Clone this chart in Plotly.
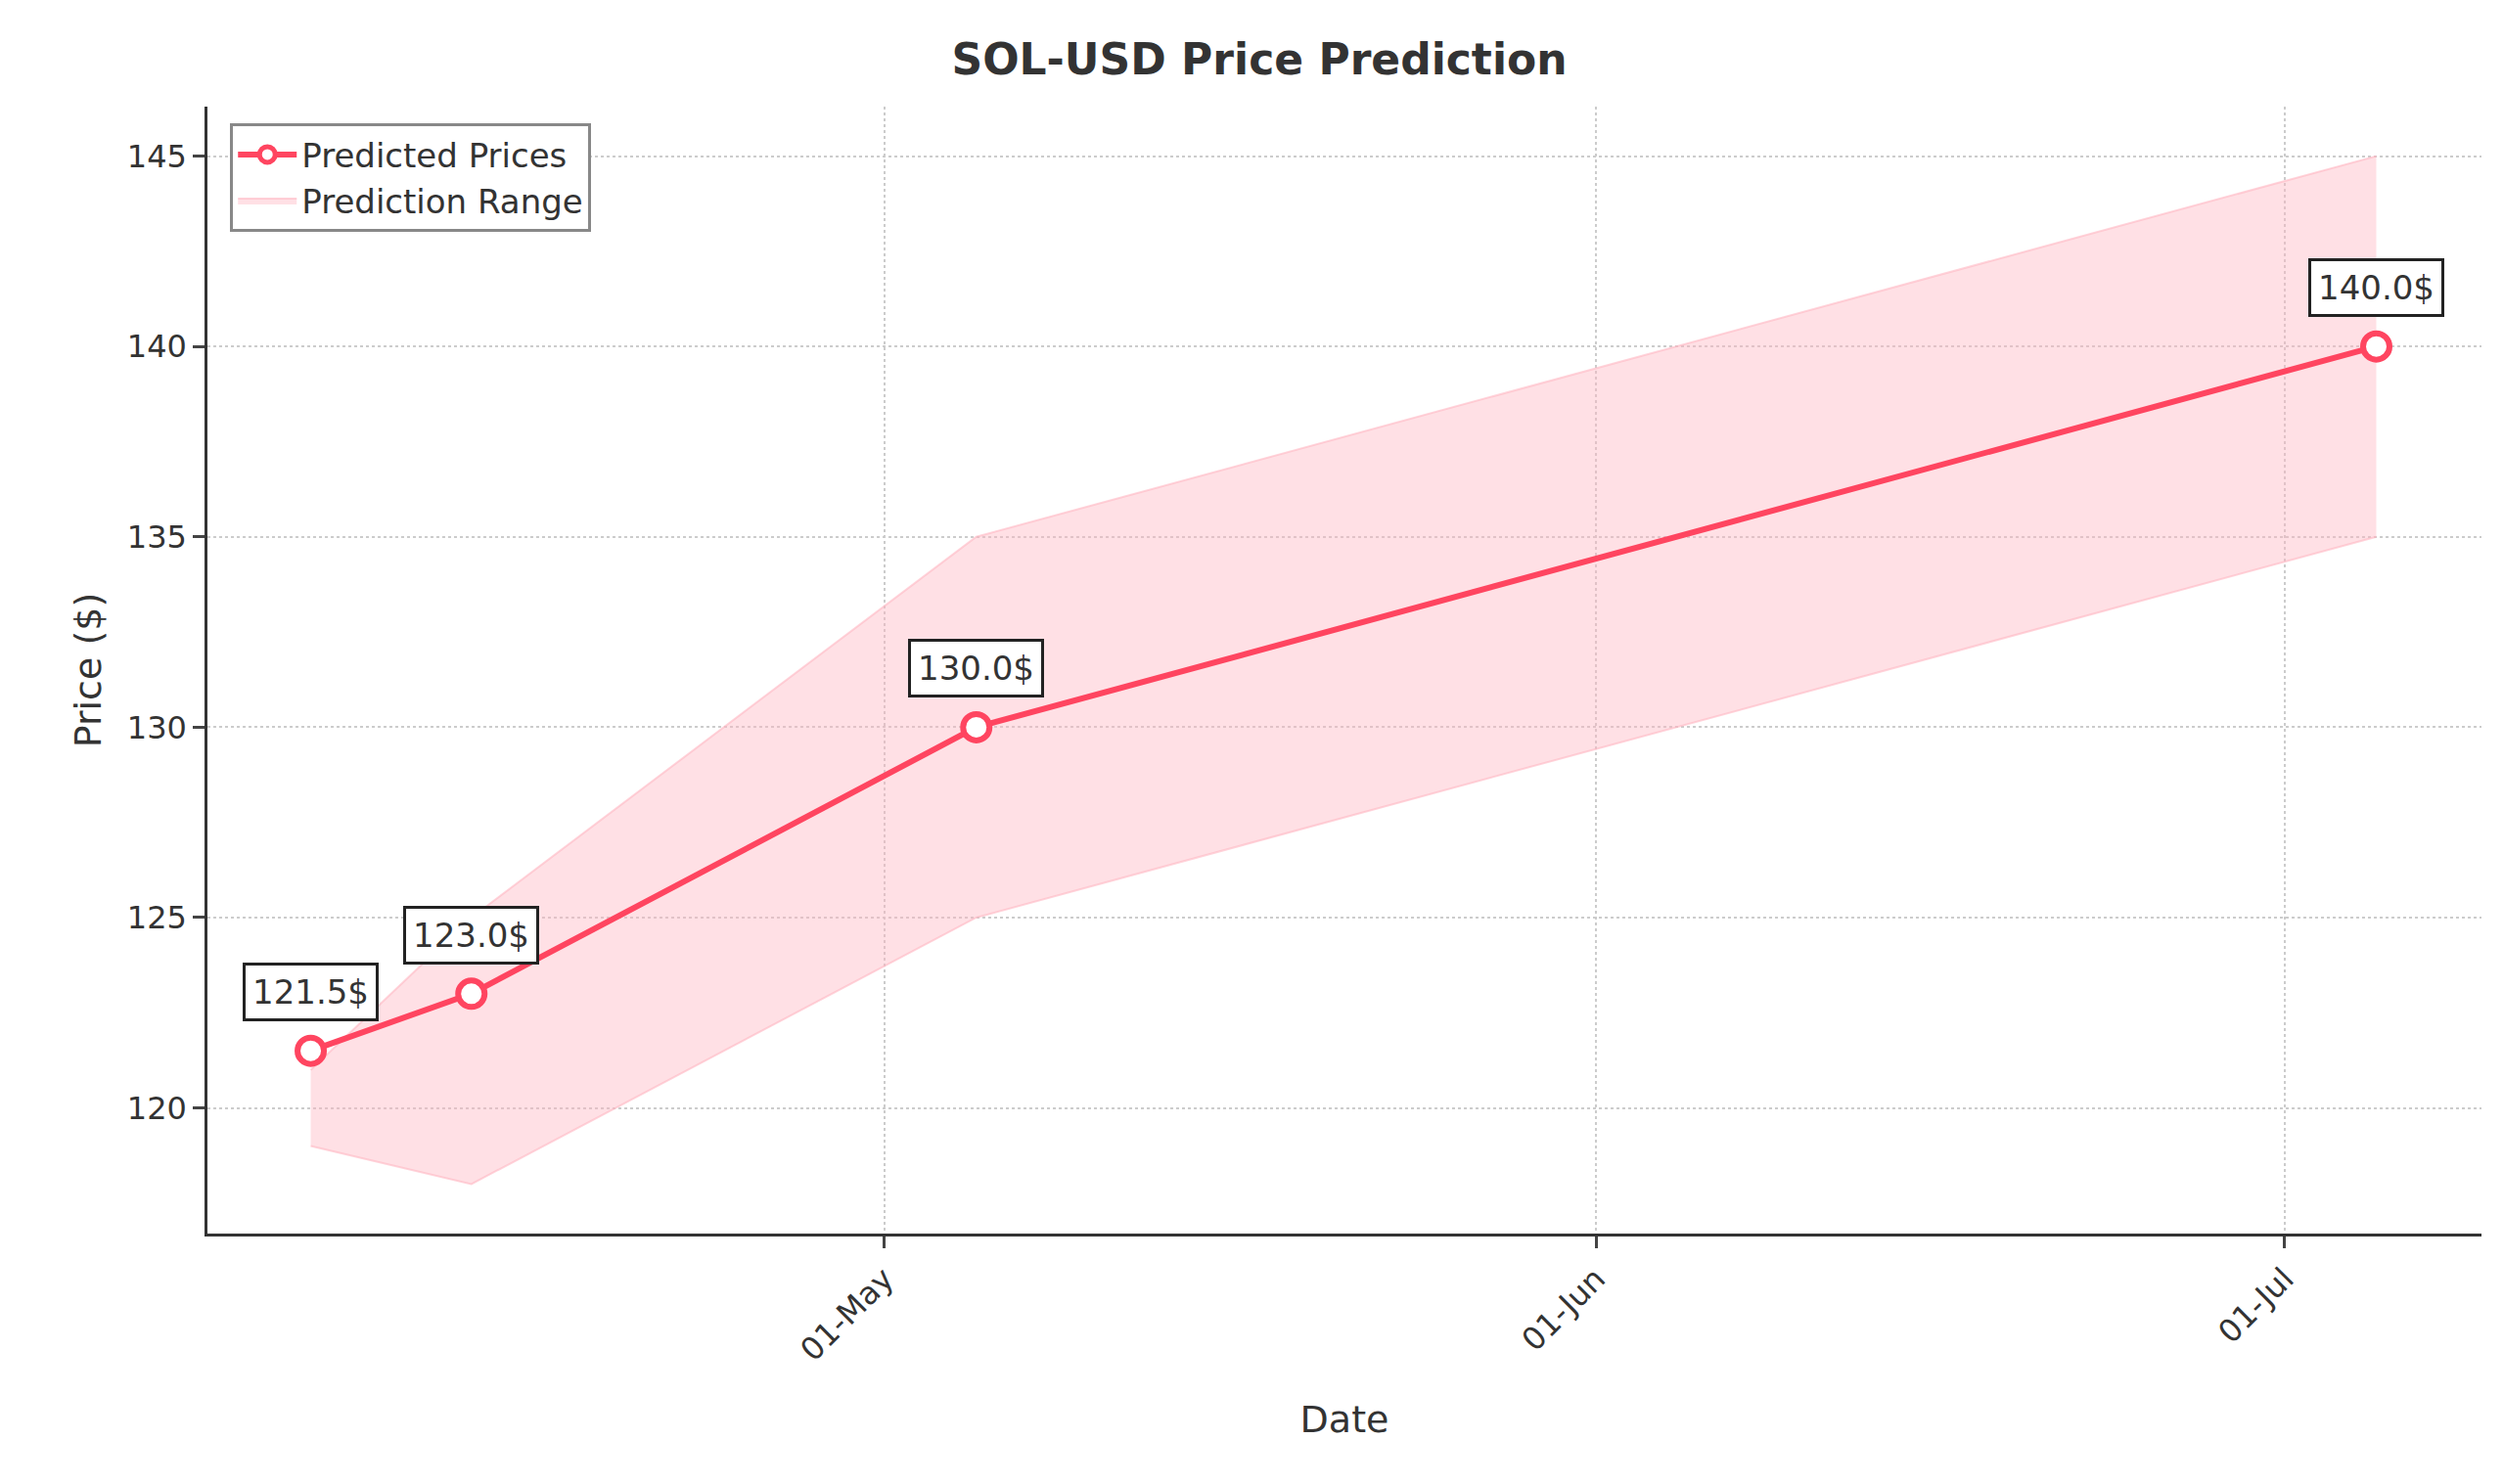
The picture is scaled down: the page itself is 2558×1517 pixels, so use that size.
import plotly.graph_objects as go

dates = ["2024-04-06", "2024-04-13", "2024-05-05", "2024-07-05"]
predicted = [121.5, 123.0, 130.0, 140.0]
lower = [119.0, 118.0, 125.0, 135.0]
upper = [121.0, 125.0, 135.0, 145.0]
tick_vals = ["2024-05-01", "2024-06-01", "2024-07-01"]
tick_text = ["01-May", "01-Jun", "01-Jul"]

red = "#FF4560"
fig = go.Figure()
fig.add_trace(go.Scatter(x=dates, y=upper, mode="lines", line=dict(color="rgba(255,182,193,0.6)", width=2),
                         showlegend=False, hoverinfo="skip"))
fig.add_trace(go.Scatter(x=dates, y=lower, mode="lines", fill="tonexty", fillcolor="rgba(255,182,193,0.42)",
                         line=dict(color="rgba(255,182,193,0.6)", width=2), name="Prediction Range"))
fig.add_trace(go.Scatter(x=dates, y=predicted, mode="lines+markers", name="Predicted Prices",
                         line=dict(color=red, width=6),
                         marker=dict(size=27, color="white", line=dict(color=red, width=6))))
for d, p in zip(dates, predicted):
    fig.add_annotation(x=d, y=p, text=f"{p:.1f}$", showarrow=False, yshift=60,
                       font=dict(size=34, color="#333"), bgcolor="white", bordercolor="#222",
                       borderwidth=3, borderpad=7)

fig.update_layout(
    width=2558, height=1517, plot_bgcolor="white", paper_bgcolor="white",
    font=dict(family="DejaVu Sans", color="#333"),
    margin=dict(l=204, r=30, t=101, b=264),
    title=dict(text="<b>SOL-USD Price Prediction</b>", x=0.5, xanchor="center", y=0.965, yanchor="middle",
               font=dict(size=44, color="#333")),
    legend=dict(x=0.01, y=0.985, xanchor="left", yanchor="top", bgcolor="white", bordercolor="#888",
                borderwidth=3, font=dict(size=34), traceorder="reversed", itemwidth=60),
    xaxis=dict(title=dict(text="Date", font=dict(size=38), standoff=40), range=["2024-04-01 12:00", "2024-07-09 14:00"],
               tickvals=tick_vals, ticktext=tick_text, tickangle=-45, tickfont=dict(size=32),
               showgrid=True, gridcolor="#ccc", griddash="dot", gridwidth=2,
               showline=True, linecolor="#333", linewidth=2.5, ticks="outside", ticklen=12, tickwidth=2.5, zeroline=False),
    yaxis=dict(title=dict(text="Price ($)", font=dict(size=38)), range=[116.7, 146.3],
               tickvals=[120, 125, 130, 135, 140, 145], tickfont=dict(size=32),
               showgrid=True, gridcolor="#ccc", griddash="dot", gridwidth=2,
               showline=True, linecolor="#333", linewidth=2.5, ticks="outside", ticklen=12, tickwidth=2.5, zeroline=False),
)
fig.write_html("out.html")
